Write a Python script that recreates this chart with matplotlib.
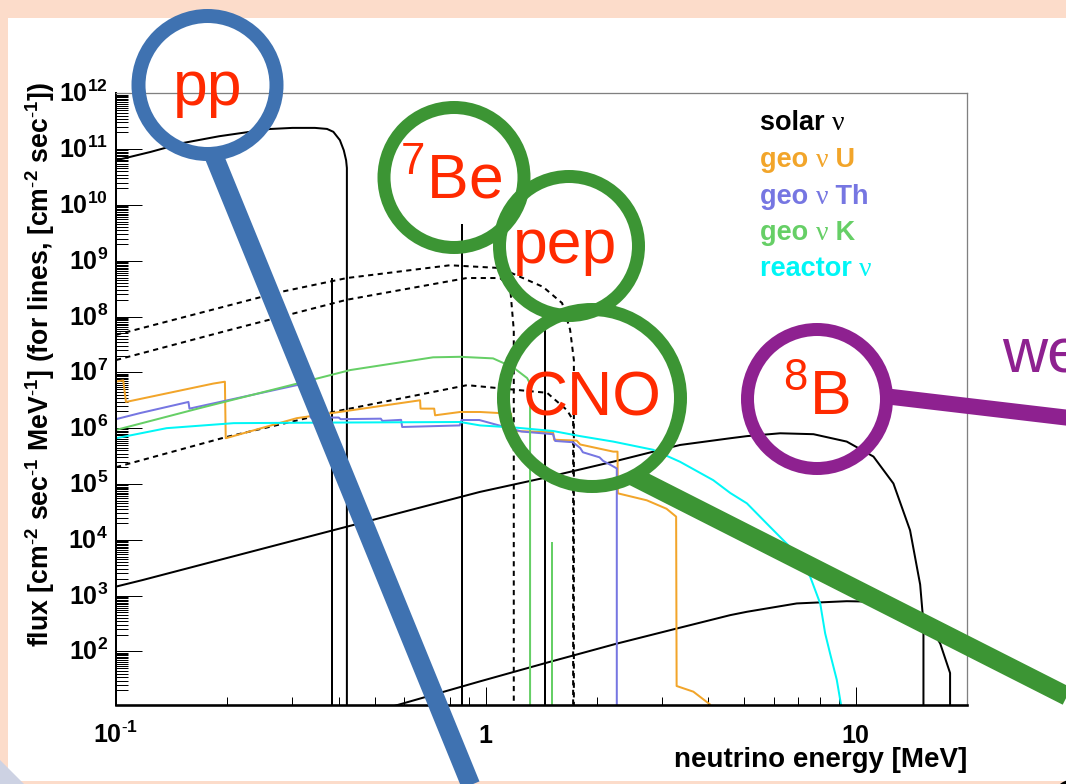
import numpy as np
import matplotlib
matplotlib.use("Agg")
import matplotlib.pyplot as plt
from matplotlib.patches import Ellipse, Rectangle, Polygon
from matplotlib.ticker import LogLocator, NullFormatter, FixedLocator
import matplotlib.transforms as mtransforms

plt.rcParams['font.family'] = ['Liberation Sans', 'DejaVu Sans']
plt.rcParams['mathtext.fontset'] = 'stix'
plt.rcParams['mathtext.default'] = 'regular'

# ---------------- spectra (energy in MeV, flux per cm^2 s MeV) ----------------
pp_E = [0.100, 0.124, 0.152, 0.190, 0.230, 0.260, 0.300, 0.345, 0.372, 0.387, 0.403, 0.413, 0.419, 0.421, 0.421]
pp_flux = [6.3e10, 8.9e10, 1.29e11, 1.70e11, 2.04e11, 2.29e11, 2.40e11, 2.40e11, 2.30e11, 2.04e11, 1.45e11,
           9.5e10, 6.3e10, 4.6e10, 0]

b8_E = [0.100, 0.118, 0.963, 1.464, 2.26, 3.35, 4.58, 5.08, 6.25, 7.69, 9.46, 11.17, 12.65, 14.03, 14.94, 15.25, 15.42]
b8_flux = [1.45e3, 1.9e3, 7.2e4, 1.32e5, 2.6e5, 5.0e5, 6.6e5, 7.2e5, 8.1e5, 7.8e5, 5.75e5, 3.1e5, 1.02e5,
           1.48e4, 1.58e3, 3.2e2, 0]

hep_E = [0.55, 0.963, 1.464, 2.26, 3.28, 4.58, 5.08, 6.93, 9.46, 11.65, 14.3, 15.9, 16.93, 18.0, 18.8]
hep_flux = [10, 29, 63, 138, 257, 447, 513, 724, 794, 776, 525, 282, 138, 41, 0]

o15_E = [0.100, 0.278, 0.421, 0.800, 1.093, 1.428, 1.608, 1.690, 1.730, 1.736]
o15_flux = [4.7e7, 2.75e8, 4.9e8, 8.3e8, 7.4e8, 3.4e8, 1.74e8, 5.8e7, 1.66e7, 0]

n13_E = [0.100, 0.203, 0.421, 0.888, 1.093, 1.163, 1.190, 1.195]
n13_flux = [1.66e7, 5.75e7, 2.0e8, 4.9e8, 4.9e8, 3.4e8, 5.75e7, 0]

f17_E = [0.100, 0.198, 0.386, 0.890, 1.464, 1.658, 1.722, 1.736]
f17_flux = [2.0e5, 6.9e5, 1.95e6, 5.9e6, 4.3e6, 2.1e6, 1.38e6, 0]

# mono-energetic solar lines (7Be x2, pep), flux in cm^-2 s^-1
solar_line_E = [0.384, 0.862, 1.442]
solar_line_flux = [4.8e8, 4.3e9, 1.4e8]

geoU_E = [0.100, 0.1046, 0.1064, 0.1833, 0.197, 0.198, 0.308, 0.664, 0.666, 0.725, 0.729, 0.852, 0.965,
          1.163, 1.170, 1.175, 1.52, 1.53, 1.76, 1.80, 2.21, 2.27, 2.275, 2.724, 3.08, 3.27, 3.28, 3.64,
          4.04, 4.10]
geoU_flux = [6.8e6, 7.2e6, 2.95e6, 6.3e6, 6.8e6, 6.6e5, 1.51e6, 3.16e6, 2.24e6, 2.24e6, 1.70e6, 1.95e6,
             1.95e6, 1.82e6, 1.82e6, 8.9e5, 8.5e5, 6.2e5, 6.0e5, 5.1e5, 3.8e5, 3.8e5, 6.8e4, 5.1e4, 3.6e4,
             2.6e4, 24, 19, 11.2, 8]

geoTh_E = [0.100, 0.116, 0.157, 0.158, 0.308, 0.334, 0.336, 0.400, 0.405, 0.520, 0.525, 0.590, 0.594,
           0.850, 0.860, 0.960, 1.07, 1.25, 1.52, 1.54, 1.72, 1.80, 1.83, 2.03, 2.075, 2.20, 2.26, 2.262]
geoTh_flux = [1.45e6, 1.86e6, 2.95e6, 2.24e6, 5.9e6, 6.3e6, 1.55e6, 1.55e6, 1.45e6, 1.48e6, 1.35e6,
              1.41e6, 1.05e6, 1.12e6, 1.40e6, 1.40e6, 1.15e6, 8.7e5, 7.8e5, 5.9e5, 5.6e5, 4.4e5, 3.7e5,
              3.0e5, 2.6e5, 2.1e5, 1.9e5, 0]

geoK_E = [0.100, 0.169, 0.315, 0.430, 0.720, 0.852, 1.046, 1.185, 1.293, 1.317, 1.317]
geoK_flux = [9.3e5, 2.3e6, 6.5e6, 1.10e7, 1.86e7, 1.90e7, 1.78e7, 1.23e7, 7.9e6, 6.3e6, 0]
geoK_line_E = [1.51]
geoK_line_flux = [8.7e3]

reactor_E = [0.100, 0.137, 0.208, 0.386, 0.852, 0.965, 1.21, 1.52, 1.80, 2.21, 2.835, 3.35, 4.12, 4.58,
             5.08, 5.87, 6.65, 7.53, 8.02, 8.27, 8.53, 8.89, 9.13, 9.30]
reactor_flux = [6.6e5, 1.0e6, 1.23e6, 1.26e6, 1.29e6, 1.12e6, 1.02e6, 8.9e5, 7.2e5, 5.75e5, 4.1e5, 2.5e5,
                1.17e5, 6.9e4, 4.5e4, 1.7e4, 7.4e3, 2.2e3, 7.2e2, 2.1e2, 91, 31, 11, 6]

x_tick_values = [0.1, 1, 10]
x_tick_labels = [r'$10^{\text{-}1}$', '1', '10']
y_tick_values = [1e2, 1e3, 1e4, 1e5, 1e6, 1e7, 1e8, 1e9, 1e10, 1e11, 1e12]
y_tick_labels = [r'$10^{%d}$' % k for k in range(2, 13)]

legend_words = [('solar', ''), ('geo', 'U'), ('geo', 'Th'), ('geo', 'K'), ('reactor', '')]

# ---------------- styling ----------------
W, H, DPI = 1066, 784, 100
PT = 72.0 / DPI            # points per pixel
C_U, C_TH, C_K, C_REA = '#F2A52A', '#7676E2', '#66CF66', '#00F6F6'
legend_colors = ['black', C_U, C_TH, C_K, C_REA]
LW = 2 * PT


def fx(x):
    return x / W


def fy(y):
    return 1 - y / H


fig = plt.figure(figsize=(W / DPI, H / DPI), dpi=DPI, facecolor='#FCDCCA')
fig.patches.append(Rectangle((fx(8), fy(781)), (W - 8) / W, (781 - 18) / H, transform=fig.transFigure,
                             facecolor='white', edgecolor='none', zorder=-5))

ax = fig.add_axes([fx(116), fy(705), (967 - 116) / W, (705 - 93.3) / H])
ax.patch.set_alpha(0)
ax.set_xscale('log')
ax.set_yscale('log', nonpositive='clip')
ax.set_xlim(0.1, 20)
ax.set_ylim(10 ** 1.04, 1e12)

# solar continua
for E, F in [(pp_E, pp_flux), (b8_E, b8_flux), (hep_E, hep_flux)]:
    ax.plot(E, F, color='black', lw=LW)
for E, F in [(o15_E, o15_flux), (n13_E, n13_flux), (f17_E, f17_flux)]:
    ax.plot(E, F, color='black', lw=LW, ls=(0, (2.6, 2.2)))
for e, f in zip(solar_line_E, solar_line_flux):
    ax.plot([e, e], [0, f], color='black', lw=LW)

# geo-neutrinos and reactor
ax.plot(geoU_E, geoU_flux, color=C_U, lw=LW)
ax.plot(geoTh_E, geoTh_flux, color=C_TH, lw=LW)
ax.plot(geoK_E, geoK_flux, color=C_K, lw=LW)
for e, f in zip(geoK_line_E, geoK_line_flux):
    ax.plot([e, e], [0, f], color=C_K, lw=LW)
ax.plot(reactor_E, reactor_flux, color=C_REA, lw=LW)

# frame
for side in ['top', 'right']:
    ax.spines[side].set_color('#808080')
    ax.spines[side].set_linewidth(1.3 * PT)
ax.spines['left'].set_linewidth(2 * PT)
ax.spines['bottom'].set_linewidth(2.6 * PT)

ax.xaxis.set_major_locator(FixedLocator(x_tick_values))
ax.xaxis.set_minor_locator(LogLocator(base=10, subs=np.arange(2, 10), numticks=100))
ax.yaxis.set_major_locator(FixedLocator(y_tick_values))
ax.yaxis.set_minor_locator(LogLocator(base=10, subs=np.arange(2, 10, 0.5), numticks=1000))
for axis in (ax.xaxis, ax.yaxis):
    axis.set_major_formatter(NullFormatter())
    axis.set_minor_formatter(NullFormatter())
ax.tick_params(which='both', direction='in', top=False, right=False, width=1 * PT, color='black')
ax.tick_params(axis='y', which='major', length=26 * PT)
ax.tick_params(axis='y', which='minor', length=12 * PT)
ax.tick_params(axis='x', which='major', length=18 * PT)
ax.tick_params(axis='x', which='minor', length=8 * PT)

tick_font = dict(fontsize=18, fontweight='bold', color='black')
xt_trans = mtransforms.blended_transform_factory(ax.transData, fig.transFigure)
for v, s in zip(x_tick_values, x_tick_labels):
    ax.text(v, fy(743), s, transform=xt_trans, ha='center', va='baseline', clip_on=False, **tick_font)
yt_trans = mtransforms.offset_copy(mtransforms.blended_transform_factory(fig.transFigure, ax.transData),
                                   fig=fig, x=0, y=-9, units='dots')
for v, s in zip(y_tick_values, y_tick_labels):
    ax.text(fx(108), v, s, transform=yt_trans, ha='right', va='baseline', clip_on=False, **tick_font)

fig.text(fx(40), fy(364),
         r'flux [cm$^{\text{-}2}$ sec$^{\text{-}1}$ MeV$^{\text{-}1}$] (for lines, [cm$^{\text{-}2}$ sec$^{\text{-}1}$])',
         rotation=90, ha='center', va='center', fontsize=19.2, fontweight='bold')
fig.text(fx(967), fy(767), 'neutrino energy [MeV]', ha='right', va='baseline',
         fontsize=20, fontweight='bold')

# legend: bold sans words with a serif nu in between
renderer = fig.canvas.get_renderer()
for i, ((w1, w2), col) in enumerate(zip(legend_words, legend_colors)):
    yb = fy(130.5 + 36.5 * i)
    t1 = fig.text(fx(760), yb, w1 + ' ', color=col, ha='left', va='baseline', fontsize=19.5,
                  fontweight='bold')
    x = t1.get_window_extent(renderer).x1 / W
    t2 = fig.text(x, yb, '\u03bd', color=col, ha='left', va='baseline', fontsize=20,
                  family='Liberation Serif')
    if w2:
        x = t2.get_window_extent(renderer).x1 / W
        fig.text(x, yb, ' ' + w2, color=col, ha='left', va='baseline', fontsize=19.5, fontweight='bold')

# ---------------- slide annotations ----------------
ov = fig.add_axes([0, 0, 1, 1], zorder=5)
ov.set_xlim(0, W)
ov.set_ylim(H, 0)
ov.axis('off')

BLUE, GREEN, PURPLE, RED = '#3F72B1', '#3C9534', '#8E2190', '#FF2A00'

# pointer bands (drawn first so rings sit on top)
ov.plot([213.6, 476.8], [155, 800], color=BLUE, lw=19 * PT, solid_capstyle='butt')
ov.plot([632, 1080], [475.7, 702.8], color=GREEN, lw=19 * PT, solid_capstyle='butt')
ov.plot([888, 1080], [396.5, 419.2], color=PURPLE, lw=16 * PT, solid_capstyle='butt')

rings = [(207.5, 85, 76, 14, BLUE), (454, 177.5, 76.5, 13, GREEN), (569, 246, 76, 13, GREEN),
         (592, 398, 95, 13, GREEN), (817, 399, 76, 13, PURPLE)]
for cx, cy, r, t, c in rings:
    ov.add_patch(Ellipse((cx, cy), 2 * (r - t / 2), 2 * (r - t / 2), fill=False, edgecolor=c, lw=t * PT))

big = dict(fontsize=45, color=RED, va='baseline', ha='center')
ov.text(208, 105, 'pp', **big)
ov.text(451, 198, r'$^{7}$Be', **big)
ov.text(565, 263, 'pep', **big)
ov.text(592, 415, 'CNO', **big)
ov.text(816, 415, r'$^{8}$B', **big)
ov.text(1002, 372, 'we', fontsize=45, color=PURPLE, va='baseline', ha='left')
ov.text(1050, 823, 'C', fontsize=45, color='black', va='baseline', ha='left')

ov.add_patch(Polygon([(0, 760), (0, 784), (24, 784)], closed=True, facecolor='#CDD2E3', edgecolor='none'))

fig.savefig('out.png', dpi=DPI, facecolor=fig.get_facecolor())
